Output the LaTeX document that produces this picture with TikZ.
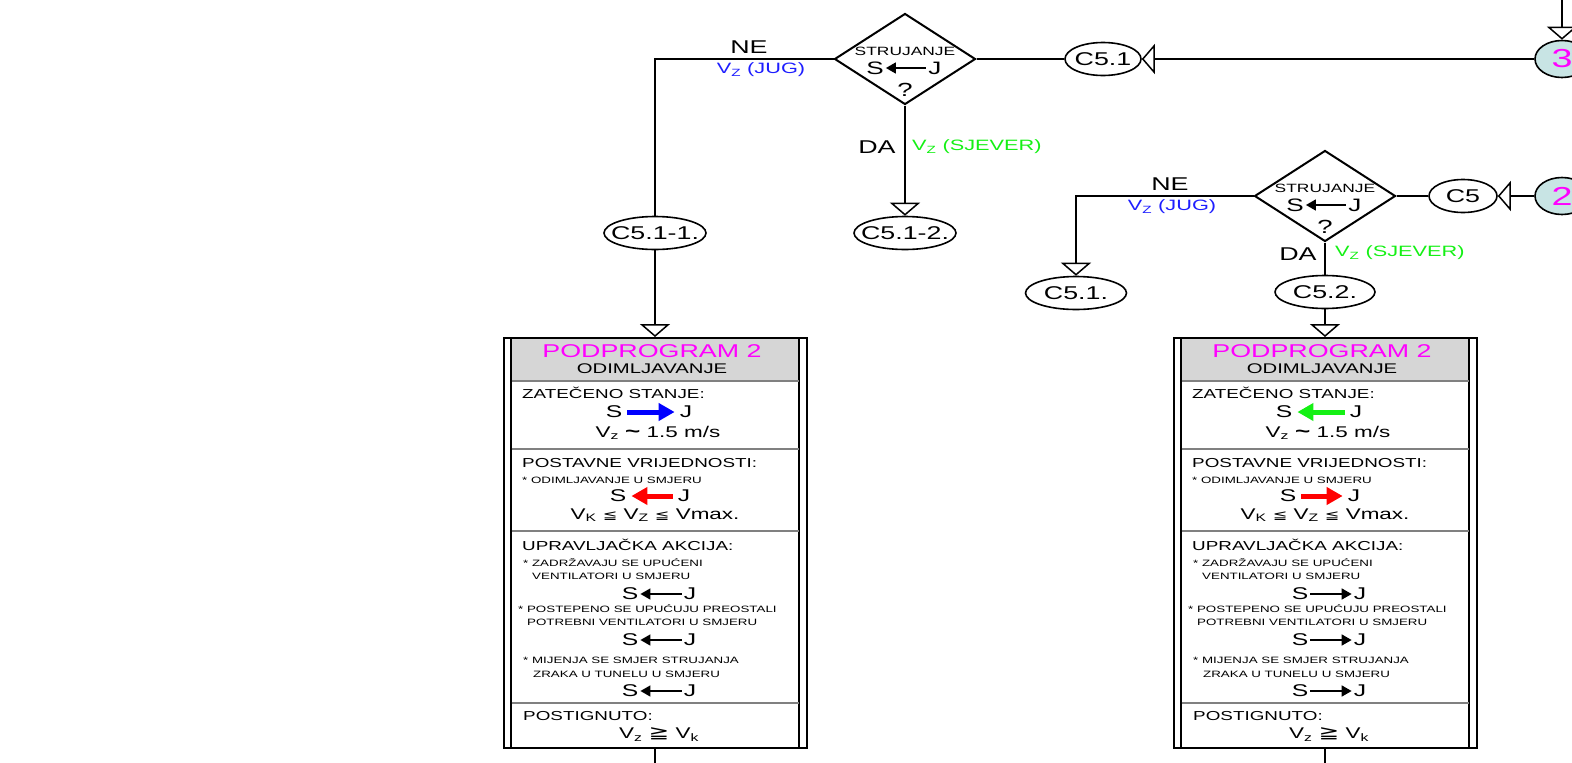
\documentclass[tikz,border=0pt]{standalone}
\usepackage{fontspec}
\setmainfont{Liberation Sans}[FakeStretch=1.45]
\newfontfamily\symfont{DejaVu Sans}[FakeStretch=1.45]
\usetikzlibrary{shapes.geometric,arrows.meta,positioning,calc}

\definecolor{jugblue}{RGB}{30,30,255}
\definecolor{sjevergreen}{RGB}{20,240,20}
\definecolor{progmagenta}{RGB}{255,0,255}
\definecolor{headgray}{RGB}{214,214,214}
\definecolor{pagecyan}{RGB}{200,228,228}
\newcommand{\fsz}[1]{\fontsize{#1}{#1}\selectfont}

\begin{document}
\begin{tikzpicture}[x=1pt, y=-1pt,
    line/.style={line width=2.4pt},
    flow/.style={line width=2.4pt, -{Triangle[open, length=13pt, width=30pt, line width=1.5pt]}},
    decision/.style={diamond, draw, line width=2pt, minimum width=141pt, minimum height=91pt, inner sep=0pt},
    conn/.style={ellipse, draw, line width=1.6pt, minimum width=#1, minimum height=33pt, inner sep=0pt},
    conn/.default=100pt,
    cfont/.style={font=\fsz{18.5}, inner sep=0pt},
    page/.style={ellipse, draw, line width=1.6pt, fill=pagecyan, minimum width=54pt, minimum height=37pt,
                 inner sep=0pt, text=progmagenta, font=\fsz{26}},
    yesno/.style={font=\fsz{18.5}, inner sep=0pt},
    dirlabel/.style={font=\fsz{15}, inner sep=0pt},
    qtext/.style={font=\fsz{12}, inner sep=0pt},
    sjd/.style={font=\fsz{18}, inner sep=2pt},
    sj/.style={font=\fsz{17}, inner sep=2pt},
    sjfat/.style={font=\fsz{17}, inner sep=5pt},
    thinS/.style={{Triangle[length=10pt,width=11pt]}-, line width=1.6pt},
    thinJ/.style={-{Triangle[length=10pt,width=11pt]}, line width=1.6pt},
    fatS/.style={{Triangle[length=16pt,width=17pt]}-, line width=5pt},
    fatJ/.style={-{Triangle[length=16pt,width=17pt]}, line width=5pt},
    progbox/.style={rectangle, draw, line width=2pt, minimum width=303pt, minimum height=410pt, inner sep=0pt},
    boxline/.style={line width=1.6pt},
    divider/.style={line width=1.3pt, gray},
    title/.style={font=\fsz{18.5}, text=progmagenta, inner sep=0pt},
    subtitle/.style={font=\fsz{14}, inner sep=0pt},
    head/.style={font=\fsz{13}, anchor=west, inner sep=0pt},
    note/.style={font=\fsz{9.2}, anchor=west, inner sep=0pt},
    val/.style={font=\fsz{15.5}, inner sep=0pt}
]
\clip (0,0) rectangle (1572,763);

% upper decision
\node[decision] (dec1) at (905,59) {};
\node[qtext] (str1) at (905,51) {STRUJANJE};
\node[sjd] (s1) at (875,68) {S};
\node[sjd] (j1) at (935,68) {J};
\draw[thinS] (s1) -- (j1);
\node[font=\fsz{19}, inner sep=0pt] (q1) at (905,90) {?};

\node[conn=76pt, label={[cfont]center:C5.1}] (c51) at (1103,59) {};
\node[page] (c3) at (1562,59) {3};
\coordinate (in3) at (1562,0);
\node[conn=102pt, label={[cfont]center:C5.1-1.}] (c511) at (655,233) {};
\node[conn=102pt, label={[cfont]center:C5.1-2.}] (c512) at (905,233) {};

\node[yesno] (ne1) at (749,47) {NE};
\node[dirlabel, text=jugblue] (jug1) at (761,70) {V\textsubscript{Z} (JUG)};
\node[yesno] (da1) at (877,147) {DA};
\node[dirlabel, text=sjevergreen, anchor=west] (sje1) at (912,147) {V\textsubscript{Z} (SJEVER)};

% lower decision
\node[decision] (dec2) at (1325,196) {};
\node[qtext] (str2) at (1325,188) {STRUJANJE};
\node[sjd] (s2) at (1295,205) {S};
\node[sjd] (j2) at (1355,205) {J};
\draw[thinS] (s2) -- (j2);
\node[font=\fsz{19}, inner sep=0pt] (q2) at (1325,227) {?};

\node[conn=68pt, label={[cfont]center:C5}] (c5) at (1463,196) {};
\node[page] (c2) at (1562,196) {2};
\node[conn=101pt, label={[cfont]center:C5.1.}] (c51b) at (1076,293) {};
\node[conn=100pt, label={[cfont]center:C5.2.}] (c52) at (1325,292) {};

\node[yesno] (ne2) at (1170,184) {NE};
\node[dirlabel, text=jugblue] (jug2) at (1172,207) {V\textsubscript{Z} (JUG)};
\node[yesno] (da2) at (1298,254) {DA};
\node[dirlabel, text=sjevergreen, anchor=west] (sje2) at (1335,253) {V\textsubscript{Z} (SJEVER)};

% subprogram boxes
\foreach \n/\bx/\ccol/\cdir/\rdir/\adir in {a/655/blue/fatJ/fatS/thinS, b/1325/sjevergreen/fatS/fatJ/thinJ}{
  \fill[headgray] (\bx-143.5,339) rectangle (\bx+143.5,381);
  \node[progbox] (box\n) at (\bx,543) {};
  \draw[boxline] ([xshift=8.5pt]box\n.north west) -- ([xshift=8.5pt]box\n.south west);
  \draw[boxline] ([xshift=-8.5pt]box\n.north east) -- ([xshift=-8.5pt]box\n.south east);
  \foreach \dy in {381,449,531,703}
    \draw[divider] (\bx-143.5,\dy) -- (\bx+143.5,\dy);
  \node[title] (tt\n) at (\bx-3,351) {PODPROGRAM 2};
  \node[subtitle] (st\n) at (\bx-3,369) {ODIMLJAVANJE};
  \node[head] (h1\n) at (\bx-133,393) {ZATEČENO STANJE:};
  \node[sjfat] (sa\n) at (\bx-41,412) {S};
  \node[sjfat] (ja\n) at (\bx+31,412) {J};
  \draw[\cdir, color=\ccol] (sa\n) -- (ja\n);
  \node[val] (v1\n) at (\bx+3,433) {V\textsubscript{z} {\fsz{18}\textbf{\textasciitilde}} 1.5 m/s};
  \node[head] (h2\n) at (\bx-133,463) {POSTAVNE VRIJEDNOSTI:};
  \node[note] (n1\n) at (\bx-133,480) {* ODIMLJAVANJE U SMJERU};
  \node[sjfat] (sb\n) at (\bx-37,496) {S};
  \node[sjfat] (jb\n) at (\bx+29,496) {J};
  \draw[\rdir, color=red] (sb\n) -- (jb\n);
  \node[val] (v2\n) at (\bx,515) {V\textsubscript{K} {\symfont\fsz{12}≦} V\textsubscript{Z} {\symfont\fsz{12}≦} Vmax.};
  \node[head] (h3\n) at (\bx-133,545) {UPRAVLJAČKA AKCIJA:};
  \node[note] (n2\n) at (\bx-132,563) {* ZADRŽAVAJU SE UPUĆENI};
  \node[note] (n3\n) at (\bx-123,576) {VENTILATORI U SMJERU};
  \node[sj] (sc\n) at (\bx-25,594) {S};
  \node[sj] (jc\n) at (\bx+35,594) {J};
  \draw[\adir] (sc\n) -- (jc\n);
  \node[note] (n4\n) at (\bx-137,609) {* POSTEPENO SE UPUĆUJU PREOSTALI};
  \node[note] (n5\n) at (\bx-128,622) {POTREBNI VENTILATORI U SMJERU};
  \node[sj] (sd\n) at (\bx-25,640) {S};
  \node[sj] (jd\n) at (\bx+35,640) {J};
  \draw[\adir] (sd\n) -- (jd\n);
  \node[note] (n6\n) at (\bx-132,660) {* MIJENJA SE SMJER STRUJANJA};
  \node[note] (n7\n) at (\bx-122,674) {ZRAKA U TUNELU U SMJERU};
  \node[sj] (se\n) at (\bx-25,691) {S};
  \node[sj] (je\n) at (\bx+35,691) {J};
  \draw[\adir] (se\n) -- (je\n);
  \node[head] (h4\n) at (\bx-132,716) {POSTIGNUTO:};
  \node[val] (v3\n) at (\bx+4,735) {V\textsubscript{z} {\symfont\fsz{17}≧} V\textsubscript{k}};
  \coordinate (out\n) at (\bx,763);
  \draw[line] (box\n) -- (out\n);
}

% connectors
\draw[flow] (in3) -- (c3);
\draw[flow] (c3) -- (c51);
\draw[line] (dec1) -- (c51);
\draw[line] (dec1.west) -| (c511);
\draw[flow] (dec1) -- (c512);
\draw[flow] (c511) -- (boxa);
\draw[flow] (c2) -- (c5);
\draw[line] (dec2) -- (c5);
\draw[flow] (dec2.west) -| (c51b);
\draw[line] (dec2) -- (c52);
\draw[flow] (c52) -- (boxb);
\end{tikzpicture}
\end{document}
